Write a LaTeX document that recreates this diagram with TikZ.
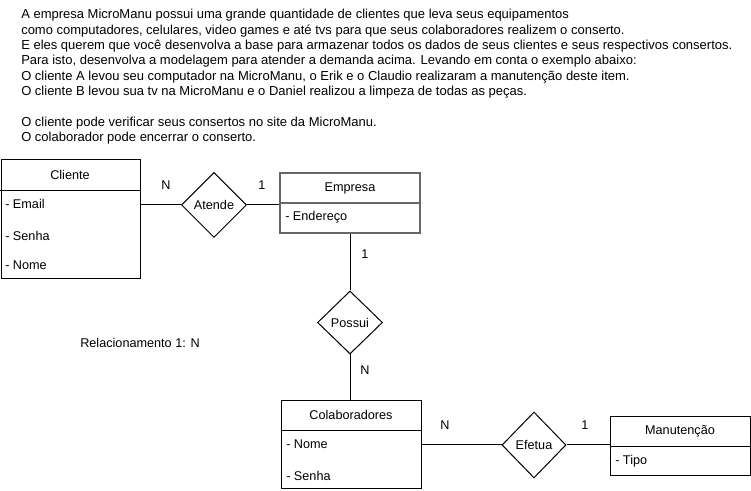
\documentclass[tikz,border=0pt]{standalone}
\usepackage{fontspec}
\setmainfont{Liberation Sans}
\usetikzlibrary{shapes.geometric}
\tikzset{
  entidade/.style={draw, line width=0.75pt, rectangle, inner sep=0pt},
  relacao/.style={draw, line width=0.75pt, diamond, inner sep=0pt, aspect=1},
  atributo/.style={anchor=west, inner sep=0pt},
  card/.style={inner sep=0pt},
  linha/.style={line width=0.75pt}
}
\begin{document}
\begin{tikzpicture}[x=0.75pt, y=-0.75pt, font=\fontsize{9.5}{11.5}\selectfont]
    \useasboundingbox (0,0) rectangle (751,491);

    %texto do enunciado
    \node[anchor=north west, inner sep=0pt, align=left, font=\fontsize{9.75}{11.5}\selectfont] (enunciado) at (21,9)
    {A empresa MicroManu possui uma grande quantidade de clientes que leva seus equipamentos\\
    como computadores, celulares, video games e até tvs para que seus colaboradores realizem o conserto.\\
    E eles querem que você desenvolva a base para armazenar todos os dados de seus clientes e seus respectivos consertos.\\
    Para isto, desenvolva a modelagem para atender a demanda acima. Levando em conta o exemplo abaixo:\\
    O cliente A levou seu computador na MicroManu, o Erik e o Claudio realizaram a manutenção deste item.\\
    O cliente B levou sua tv na MicroManu e o Daniel realizou a limpeza de todas as peças.\\
    \mbox{}\\
    O cliente pode verificar seus consertos no site da MicroManu.\\
    O colaborador pode encerrar o conserto.};

    %entidades: retangulo e linha do titulo
    \node[entidade, minimum width=104.25pt, minimum height=89.25pt] (cliente) at (70.5,219.5) {};
    \draw[linha] (0.5,191) -- (140,191);
    \node (clientetit) at (70,175) {Cliente};
    \node[atributo] (email) at (5,204) {- Email};
    \node[atributo] (senhacli) at (5,236) {- Senha};
    \node[atributo] (nomecli) at (5,265) {- Nome};

    \node[entidade, draw=black!60, line width=1.2pt, minimum width=105pt, minimum height=45pt] (empresa) at (350,203) {};
    \draw[line width=1.2pt, black!60] (280,203) -- (420,203);
    \node (empresatit) at (350,188) {Empresa};
    \node[atributo] (endereco) at (285,217) {- Endereço};

    \node[entidade, minimum width=105pt, minimum height=66pt] (colab) at (351,445) {};
    \draw[linha] (281,431) -- (421,431);
    \node (colabtit) at (351,415) {Colaboradores};
    \node[atributo] (nomecol) at (286,444) {- Nome};
    \node[atributo] (senhacol) at (286,476) {- Senha};

    \node[entidade, minimum width=105pt, minimum height=44.25pt] (manut) at (680,446.5) {};
    \draw[linha] (610,447) -- (750,447);
    \node (manuttit) at (680,431) {Manutenção};
    \node[atributo] (tipo) at (615,461) {- Tipo};

    %relacionamentos
    \node[relacao, minimum width=48.75pt, minimum height=48.75pt] (atende) at (214,205) {Atende};
    \node[relacao, minimum width=48.75pt, minimum height=47.25pt] (possui) at (350,322.5) {Possui};
    \node[relacao, minimum width=48pt, minimum height=49.5pt] (efetua) at (534,445) {Efetua};

    %ligacoes
    \draw[linha] (atende.west -| cliente.east) -- (atende.west);
    \draw[linha] (atende.east) -- (atende.east -| empresa.west);
    \draw[linha] (empresa.south) -- (possui.north);
    \draw[linha] (possui.south) -- (possui.south |- colab.north);
    \draw[linha] (efetua.west -| colab.east) -- (efetua.west);
    \draw[linha] (efetua.east) -- (efetua.east -| manut.west);

    %cardinalidades
    \node[card] (n1) at (166,185) {N};
    \node[card] (um1) at (262,185) {1};
    \node[card] (um2) at (365,254) {1};
    \node[card] (n2) at (365,370) {N};
    \node[card] (n3) at (445,425) {N};
    \node[card] (um3) at (585,425) {1};

    \node[card] (obs) at (140,343) {Relacionamento 1: N};
\end{tikzpicture}
\end{document}
